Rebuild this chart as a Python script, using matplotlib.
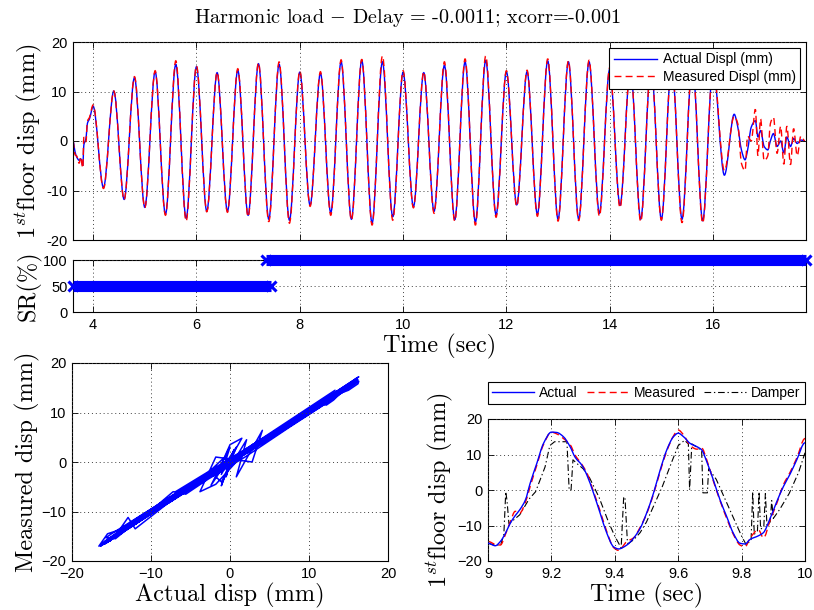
import numpy as np
import matplotlib
matplotlib.use("Agg")
import matplotlib.pyplot as plt
from matplotlib.path import Path
from matplotlib.patches import PathPatch
from matplotlib.lines import Line2D
from matplotlib.ticker import FixedLocator, FixedFormatter

plt.rcParams['font.family'] = ['Liberation Sans', 'DejaVu Sans']
plt.rcParams['mathtext.fontset'] = 'cm'
plt.rcParams['axes.linewidth'] = 0.8

# ---------------- data ----------------
# start-up transient before harmonic steady state
start_t = [3.61, 3.65, 3.68, 3.73, 3.76, 3.80, 3.82, 3.86, 3.89, 3.93]
start_act = [0.0, -2.2, -3.2, -3.9, -3.6, -5.0, -0.8, 0.5, 3.6, 4.5]
start_meas = [0.0, -2.8, -3.0, -4.5, -3.2, -5.5, 0.8, -0.2, 4.0, 4.8]

# extrema of the forced response (peaks / troughs)
ext_t = [4.0, 4.2, 4.4, 4.6, 4.8, 5.0, 5.2, 5.4, 5.6, 5.8,
         6.0, 6.2, 6.4, 6.6, 6.8, 7.0, 7.2, 7.4, 7.6, 7.8,
         8.0, 8.2, 8.4, 8.6, 8.8, 9.0, 9.2, 9.4, 9.6, 9.8,
         10.0, 10.2, 10.4, 10.6, 10.8, 11.0, 11.2, 11.4, 11.6, 11.8,
         12.0, 12.2, 12.4, 12.6, 12.8, 13.0, 13.2, 13.4, 13.6, 13.8,
         14.0, 14.2, 14.4, 14.6, 14.8, 15.0, 15.2, 15.4, 15.6, 15.8, 16.0]
ext_act = [7.0, -9.4, 10.1, -11.8, 12.8, -13.4, 14.0, -14.8, 15.5, -15.6,
           15.0, -14.2, 13.8, -14.2, 14.3, -15.0, 15.6, -15.8, 15.5, -16.0,
           13.9, -13.0, 13.7, -14.5, 16.0, -15.8, 16.3, -16.6, 16.0, -15.3,
           13.9, -13.3, 13.8, -14.2, 15.3, -15.9, 16.0, -16.4, 16.3, -14.9,
           14.0, -12.9, 14.0, -14.8, 16.2, -15.8, 16.0, -15.8, 16.0, -14.6,
           14.5, -13.0, 15.0, -15.8, 15.5, -15.8, 16.0, -15.8, 16.0, -16.1, 15.0]
ext_meas = [7.3, -9.6, 10.1, -11.9, 13.0, -13.5, 14.2, -15.0, 16.2, -16.2,
            15.2, -14.3, 13.9, -14.4, 14.6, -15.3, 15.8, -16.3, 16.0, -16.6,
            14.2, -13.2, 14.0, -15.0, 16.4, -16.0, 16.5, -17.0, 17.2, -16.0,
            14.2, -13.5, 14.0, -14.6, 16.0, -16.2, 16.6, -17.0, 17.2, -15.4,
            14.2, -13.2, 14.3, -15.2, 16.6, -16.2, 16.2, -16.1, 16.3, -15.2,
            14.8, -13.5, 15.2, -16.3, 15.8, -16.0, 16.3, -16.5, 16.3, -16.6, 15.3]

# free vibration after the load stops
free_t = [16.22, 16.41, 16.48, 16.55, 16.62, 16.67, 16.74, 16.82, 16.87, 16.92,
          16.99, 17.06, 17.11, 17.17, 17.24, 17.31, 17.37, 17.43, 17.50, 17.56,
          17.63, 17.70, 17.78]
free_act = [-6.9, 5.4, 2.8, -1.8, -3.8, -1.8, 2.8, 4.1, 0.8, 2.1,
            -1.1, -1.8, 0.0, 1.5, -1.1, 0.0, -2.4, 0.8, -1.1, 0.5,
            -0.5, 0.2, 0.0]
free_meas = [-6.0, 5.0, 3.5, -4.5, -6.0, 1.0, 0.0, 6.4, -3.0, 4.5,
             -4.0, -3.0, 3.5, 4.8, -2.5, 3.0, -4.7, 3.0, -4.8, 2.5,
             -3.0, 1.0, 0.0]

# semi-active ratio
sr_t0 = [3.61, 7.35]
sr_t1 = [7.44, 17.8]
sr_level = [50, 100]

# zoomed window 9-10 s
win_t = [9.0, 9.023, 9.039, 9.055, 9.07, 9.086, 9.10, 9.118, 9.133, 9.154,
         9.175, 9.20, 9.217, 9.238, 9.259, 9.275, 9.296, 9.312, 9.333, 9.354,
         9.375, 9.396, 9.412, 9.438, 9.459, 9.48, 9.50, 9.522, 9.543, 9.564,
         9.585, 9.60, 9.617, 9.638, 9.659, 9.674, 9.69, 9.711, 9.732, 9.753,
         9.774, 9.795, 9.811, 9.827, 9.853, 9.869, 9.89, 9.91, 9.932, 9.953,
         9.974, 10.0]
win_act = [-15.0, -15.7, -14.5, -12.2, -9.4, -7.2, -5.6, -2.8, 1.9, 7.5,
           13.1, 16.3, 16.2, 15.0, 12.2, 9.2, 7.0, 4.2, -0.9, -6.6,
           -12.2, -16.0, -16.6, -15.5, -13.6, -10.8, -6.6, -0.9, 5.6, 11.3,
           15.0, 16.0, 15.0, 13.1, 12.2, 11.3, 8.0, 2.8, -2.8, -7.5,
           -12.2, -15.0, -15.2, -13.9, -12.9, -12.0, -8.0, -3.5, 1.0, 4.5,
           8.5, 13.3]
win_meas = [-14.5, -15.3, -15.5, -12.5, -9.0, -6.0, -6.5, -3.5, 1.0, 7.0,
            12.8, 16.3, 15.8, 14.5, 12.8, 9.8, 7.2, 4.8, -0.5, -6.0,
            -11.8, -16.2, -17.0, -14.5, -13.5, -10.5, -6.8, -1.2, 5.2, 11.0,
            15.2, 16.9, 15.5, 12.5, 11.5, 11.8, 8.5, 2.5, -3.0, -8.0,
            -12.5, -15.5, -16.0, -13.5, -11.2, -13.5, -8.5, -4.0, 1.5, 5.0,
            9.0, 14.5]
dmp_t = [9.0, 9.02, 9.04, 9.05, 9.056, 9.06, 9.066, 9.08, 9.10, 9.13,
         9.15, 9.18, 9.195, 9.21, 9.249, 9.256, 9.262, 9.268, 9.28, 9.30,
         9.32, 9.35, 9.38, 9.40, 9.42, 9.428, 9.432, 9.44, 9.444, 9.46,
         9.48, 9.50, 9.52, 9.55, 9.58, 9.60, 9.62, 9.632, 9.636, 9.643,
         9.66, 9.674, 9.678, 9.692, 9.696, 9.72, 9.75, 9.78, 9.80, 9.815,
         9.83, 9.835, 9.84, 9.85, 9.855, 9.86, 9.87, 9.875, 9.88, 9.89,
         9.895, 9.90, 9.92, 9.95, 9.98, 10.0]
dmp_val = [-15.0, -15.5, -15.5, -12.5, -0.5, -3.0, -9.5, -8.5, -7.0, -2.5,
           -0.5, 6.5, 12.5, 13.6, 13.6, 0.0, 0.0, 8.5, 7.5, 6.0,
           3.5, -2.0, -9.0, -13.0, -16.3, -2.0, -2.0, -15.0, -15.0, -14.0,
           -12.0, -9.0, -5.0, 1.0, 8.0, 12.5, 14.0, 13.0, 0.0, 13.0,
           12.0, 11.0, -0.8, -0.8, 6.0, 3.0, -3.0, -9.0, -13.0, -15.5,
           -14.0, -0.5, -12.5, -11.5, -0.5, -11.0, -10.5, -1.0, -10.0, -9.0,
           -3.0, -8.0, -5.5, -1.0, 5.0, 10.5]

# ---------------- helpers ----------------
def smooth_path(t, v):
    """Bezier path through the read points (horizontal tangents at extrema)."""
    t = np.asarray(t, float)
    v = np.asarray(v, float)
    n = len(t)
    s = np.zeros(n)
    for i in range(1, n - 1):
        d0 = (v[i] - v[i - 1]) / (t[i] - t[i - 1])
        d1 = (v[i + 1] - v[i]) / (t[i + 1] - t[i])
        if d0 * d1 > 0:
            s[i] = 2.0 / (1.0 / d0 + 1.0 / d1)
    verts = [(t[0], v[0])]
    codes = [Path.MOVETO]
    for i in range(n - 1):
        h = t[i + 1] - t[i]
        verts += [(t[i] + h / 3, v[i] + s[i] * h / 3),
                  (t[i + 1] - h / 3, v[i + 1] - s[i + 1] * h / 3),
                  (t[i + 1], v[i + 1])]
        codes += [Path.CURVE4] * 3
    return Path(verts, codes)


def style_axes(ax):
    ax.tick_params(direction='in', length=4, width=0.6, top=True, right=True,
                   labelsize=10.5, pad=4, colors='black')
    ax.grid(True, linestyle=(0, (1, 3)), color='0.25', linewidth=0.7)
    ax.set_axisbelow(False)


SERIF = dict(fontfamily='cmr10')
LBL = 17.5

full_t = start_t + ext_t + free_t
full_act = start_act + ext_act + free_act
full_meas = start_meas + ext_meas + free_meas

fig = plt.figure(figsize=(8.14, 6.10), dpi=100)

# ---------------- top time history ----------------
ax1 = fig.add_axes([73 / 814, 1 - 240 / 610, 733 / 814, 198 / 610])
ax1.add_patch(PathPatch(smooth_path(full_t, full_act), fill=False,
                        edgecolor='blue', lw=1.0))
ax1.add_patch(PathPatch(smooth_path(full_t, full_meas), fill=False,
                        edgecolor='red', lw=1.0, linestyle=(0, (5, 3))))
ax1.set_xlim(3.61, 17.8)
ax1.set_ylim(-20, 20)
ax1.xaxis.set_major_locator(FixedLocator([4, 6, 8, 10, 12, 14, 16]))
ax1.set_xticklabels([])
ax1.yaxis.set_major_locator(FixedLocator([-20, -10, 0, 10, 20]))
ax1.yaxis.set_major_formatter(FixedFormatter(['-20', '-10', '0', '10', '20']))
style_axes(ax1)
ax1.set_ylabel(r'1$^{st}$floor disp (mm)', fontsize=LBL, labelpad=1, **SERIF)
h1 = [Line2D([], [], color='blue', lw=1.0),
      Line2D([], [], color='red', lw=1.0, linestyle=(0, (5, 3)))]
leg1 = ax1.legend(h1, ['Actual Displ (mm)', 'Measured Displ (mm)'],
                  loc='upper right', fontsize=10, fancybox=False, framealpha=1,
                  edgecolor='black', handlelength=3.1, borderaxespad=0.4,
                  labelspacing=0.25, handletextpad=0.4, borderpad=0.35)
leg1.get_frame().set_linewidth(0.8)

fig.text(0.5, 1 - 18 / 610, 'Harmonic load $-$ Delay = -0.0011; xcorr=-0.001',
         ha='center', va='center', fontsize=14.5, **SERIF)

# ---------------- SR ----------------
ax2 = fig.add_axes([73 / 814, 1 - 312 / 610, 733 / 814, 52 / 610])
for a, b, lev in zip(sr_t0, sr_t1, sr_level):
    ax2.plot([a, b], [lev, lev], color='blue', lw=8, solid_capstyle='butt',
             marker='x', ms=7, mew=2.2, clip_on=False, zorder=3)
ax2.set_xlim(3.61, 17.8)
ax2.set_ylim(0, 100)
ax2.xaxis.set_major_locator(FixedLocator([4, 6, 8, 10, 12, 14, 16]))
ax2.xaxis.set_major_formatter(FixedFormatter(['4', '6', '8', '10', '12', '14', '16']))
ax2.yaxis.set_major_locator(FixedLocator([0, 50, 100]))
ax2.yaxis.set_major_formatter(FixedFormatter(['0', '50', '100']))
style_axes(ax2)
ax2.set_ylabel('SR(%)', fontsize=LBL, labelpad=1, **SERIF)
ax2.set_xlabel('Time (sec)', fontsize=LBL, labelpad=2, **SERIF)

# ---------------- measured vs actual ----------------
ax3 = fig.add_axes([72 / 814, 1 - 561 / 610, 316 / 814, 198 / 610])
i9 = ext_t.index(9.0)
i10 = ext_t.index(10.0)
xy_act = start_act + ext_act[:i9] + win_act + ext_act[i10 + 1:] + free_act
xy_meas = start_meas + ext_meas[:i9] + win_meas + ext_meas[i10 + 1:] + free_meas
ax3.plot(xy_act, xy_meas, color='blue', lw=1.1)
ax3.set_xlim(-20, 20)
ax3.set_ylim(-20, 20)
ax3.xaxis.set_major_locator(FixedLocator([-20, -10, 0, 10, 20]))
ax3.yaxis.set_major_locator(FixedLocator([-20, -10, 0, 10, 20]))
style_axes(ax3)
ax3.set_xlabel('Actual disp (mm)', fontsize=LBL, labelpad=2, **SERIF)
ax3.set_ylabel('Measured disp (mm)', fontsize=LBL, labelpad=1, **SERIF)

# ---------------- zoom 9-10 s ----------------
ax4 = fig.add_axes([488 / 814, 1 - 561 / 610, 317 / 814, 142 / 610])
ax4.add_patch(PathPatch(smooth_path(win_t, win_act), fill=False,
                        edgecolor='blue', lw=1.0, zorder=3))
ax4.add_patch(PathPatch(smooth_path(win_t, win_meas), fill=False,
                        edgecolor='red', lw=1.0, linestyle=(0, (5, 3)), zorder=2))
ax4.plot(dmp_t, dmp_val, color='black', lw=0.8, linestyle=(0, (6, 2.5, 1.2, 2.5)),
         zorder=1)
ax4.set_xlim(9, 10)
ax4.set_ylim(-20, 20)
ax4.xaxis.set_major_locator(FixedLocator([9, 9.2, 9.4, 9.6, 9.8, 10]))
ax4.xaxis.set_major_formatter(FixedFormatter(['9', '9.2', '9.4', '9.6', '9.8', '10']))
ax4.yaxis.set_major_locator(FixedLocator([-20, -10, 0, 10, 20]))
style_axes(ax4)
ax4.set_xlabel('Time (sec)', fontsize=LBL, labelpad=2, **SERIF)
ax4.set_ylabel(r'1$^{st}$floor disp (mm)', fontsize=LBL, labelpad=1, **SERIF)
h4 = [Line2D([], [], color='blue', lw=1.0),
      Line2D([], [], color='red', lw=1.0, linestyle=(0, (5, 3))),
      Line2D([], [], color='black', lw=0.8, linestyle=(0, (6, 2.5, 1.2, 2.5)))]
leg4 = ax4.legend(h4, ['Actual', 'Measured', 'Damper'], ncol=3,
                  loc='lower left', bbox_to_anchor=(0, 1.105, 1, 0.155),
                  mode='expand', borderaxespad=0, fontsize=10, fancybox=False,
                  framealpha=1, edgecolor='black', handlelength=3.0,
                  handletextpad=0.4, columnspacing=0.8, borderpad=0.3)
leg4.get_frame().set_linewidth(0.8)

fig.savefig('out.png', dpi=100)
